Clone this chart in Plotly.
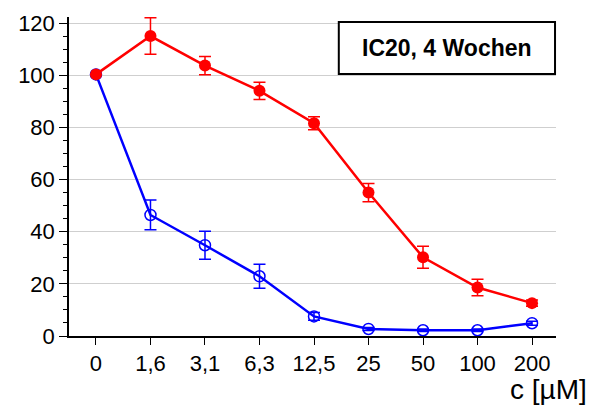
import plotly.graph_objects as go

# Concentrations (µM) shown as evenly spaced categories
conc_labels = ["0", "1,6", "3,1", "6,3", "12,5", "25", "50", "100", "200"]
positions = list(range(len(conc_labels)))

# Viability (%) with standard deviation
red_vals = [100.3, 115.0, 103.7, 94.0, 81.6, 55.0, 30.2, 18.6, 12.6]
red_err = [0.0, 7.0, 3.5, 3.3, 2.5, 3.5, 4.2, 3.2, 1.2]

blue_vals = [100.3, 46.4, 34.8, 22.9, 7.5, 2.7, 2.2, 2.2, 4.9]
blue_err = [0.0, 5.7, 5.4, 4.6, 1.5, 0.6, 0.5, 0.5, 0.8]

RED = "#ff0000"
BLUE = "#0000ff"

fig = go.Figure()

fig.add_trace(go.Scatter(
    x=positions, y=blue_vals,
    mode="lines+markers",
    line=dict(color=BLUE, width=2.5),
    marker=dict(symbol="circle-open", size=11, color=BLUE, line=dict(width=1.5, color=BLUE)),
    error_y=dict(type="data", array=blue_err, visible=True, color=BLUE, thickness=1.5, width=6),
    showlegend=False,
))

fig.add_trace(go.Scatter(
    x=positions, y=red_vals,
    mode="lines+markers",
    line=dict(color=RED, width=2.5),
    marker=dict(symbol="circle", size=12, color=RED),
    error_y=dict(type="data", array=red_err, visible=True, color=RED, thickness=1.5, width=6),
    showlegend=False,
))

fig.update_layout(
    width=597, height=406,
    margin=dict(l=69, r=41, t=17, b=70),
    paper_bgcolor="white",
    plot_bgcolor="white",
    font=dict(family="Arial, Liberation Sans, sans-serif", color="black", size=22),
    xaxis=dict(
        range=[-0.495, 8.44],
        tickmode="array", tickvals=positions, ticktext=conc_labels,
        showgrid=False, zeroline=False,
        showline=True, linecolor="black", linewidth=1.5,
        ticks="outside", ticklen=7, tickwidth=1.2, tickcolor="black",
        tickfont=dict(size=22),
    ),
    yaxis=dict(
        range=[0, 122.3],
        tickmode="linear", tick0=0, dtick=20,
        showgrid=True, gridcolor="#cfcfcf", gridwidth=1,
        zeroline=False,
        showline=True, linecolor="black", linewidth=1.5,
        ticks="outside", ticklen=8, tickwidth=1.2, tickcolor="black",
        minor=dict(ticks="outside", ticklen=4, dtick=5, tickcolor="black", tickwidth=1.2, showgrid=False),
        tickfont=dict(size=22),
    ),
)

# Boxed title inside the plot area
fig.add_shape(
    type="rect", xref="paper", yref="paper",
    x0=0.554, x1=0.998, y0=0.821, y1=0.984,
    line=dict(color="black", width=2), fillcolor="white", layer="above",
)
fig.add_annotation(
    xref="paper", yref="paper", x=0.776, y=0.9025,
    text="<b>IC20, 4 Wochen</b>", showarrow=False,
    font=dict(size=23, color="black"), xanchor="center", yanchor="middle",
)

# Axis unit label at lower right
fig.add_annotation(
    xref="paper", yref="paper", x=1.068, y=-0.169,
    text="c [µM]", showarrow=False,
    font=dict(size=28, color="black"), xanchor="right", yanchor="middle",
)

fig.write_html("out.html")
